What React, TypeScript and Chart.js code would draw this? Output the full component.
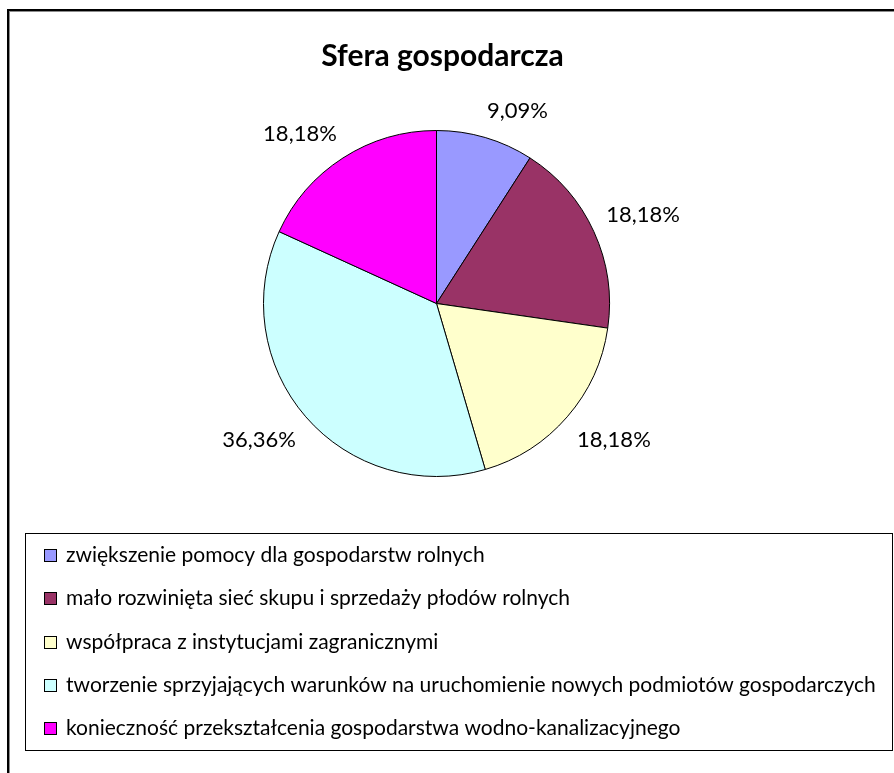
import { useEffect, useRef } from "react";
import { Chart, registerables } from "chart.js";

Chart.register(...registerables);

const chartTitle = "Sfera gospodarcza";
const categories = [
  "zwiększenie pomocy dla gospodarstw rolnych",
  "mało rozwinięta sieć skupu i sprzedaży płodów rolnych",
  "współpraca z instytucjami zagranicznymi",
  "tworzenie sprzyjających warunków na uruchomienie nowych podmiotów gospodarczych",
  "konieczność przekształcenia gospodarstwa wodno-kanalizacyjnego",
];
const values = [9.09, 18.18, 18.18, 36.36, 18.18];
const colors = ["#9999FF", "#993366", "#FFFFCC", "#CCFFFF", "#FF00FF"];

const FONT = "Lato, 'Open Sans', 'DejaVu Sans', sans-serif";

const fmt = (v: number) => v.toFixed(2).replace(".", ",") + "%";

const decorPlugin = {
  id: "decor",
  beforeDraw(chart: any) {
    const ctx = chart.ctx as CanvasRenderingContext2D;
    ctx.save();
    ctx.fillStyle = "#ffffff";
    ctx.fillRect(0, 0, chart.width, chart.height);
    // outer chart frame (top + left visible)
    ctx.fillStyle = "#000000";
    ctx.fillRect(7, 9, 2, chart.height);
    ctx.fillRect(7, 9, chart.width, 2);
    ctx.fillStyle = "#8c8c8c";
    ctx.fillRect(9, 11, 1, chart.height);
    ctx.fillRect(9, 11, chart.width, 1);
    ctx.restore();
  },
  afterDraw(chart: any) {
    const ctx = chart.ctx as CanvasRenderingContext2D;
    ctx.save();
    // title
    ctx.fillStyle = "#000000";
    ctx.font = `bold 30px ${FONT}`;
    ctx.textAlign = "center";
    ctx.textBaseline = "alphabetic";
    ctx.fillText(chartTitle, 442.5, 66);

    // data labels
    const meta = chart.getDatasetMeta(0);
    ctx.font = `22px ${FONT}`;
    meta.data.forEach((arc: any, i: number) => {
      const { x, y, startAngle, endAngle, outerRadius } = arc.getProps(
        ["x", "y", "startAngle", "endAngle", "outerRadius"],
        true
      );
      const mid = (startAngle + endAngle) / 2;
      const c = Math.cos(mid);
      const s = Math.sin(mid);
      const text = fmt(values[i]);
      const w = ctx.measureText(text).width;
      const R = outerRadius + 17;
      const cx = x + c * R + Math.sign(c) * (w / 2 - 3);
      const cy = y + s * R + Math.sign(s) * 11;
      ctx.textAlign = "center";
      ctx.fillText(text, cx, cy + 8);
    });

    // legend box
    const boxL = 25, boxT = 533, boxR = 892, boxB = 750;
    ctx.strokeStyle = "#000000";
    ctx.lineWidth = 1;
    ctx.strokeRect(boxL + 0.5, boxT + 0.5, boxR - boxL, boxB - boxT);
    const rowH = (boxB - boxT) / categories.length;
    ctx.font = `21px ${FONT}`;
    ctx.textAlign = "left";
    categories.forEach((label, i) => {
      const ry = Math.round(boxT + rowH * (i + 0.5));
      ctx.fillStyle = colors[i];
      ctx.fillRect(44, ry - 6, 12, 12);
      ctx.strokeStyle = "#000000";
      ctx.strokeRect(44.5, ry - 5.5, 12, 12);
      ctx.fillStyle = "#000000";
      ctx.fillText(label, 66, ry + 7);
    });
    ctx.restore();
  },
};

export default function App() {
  const ref = useRef<HTMLCanvasElement | null>(null);
  useEffect(() => {
    document.body.style.margin = "0";
    if (!ref.current) return;
    const chart = new Chart(ref.current, {
      type: "pie",
      data: {
        labels: categories,
        datasets: [
          {
            data: values,
            backgroundColor: colors,
            borderColor: "#000000",
            borderWidth: 1,
          },
        ],
      },
      options: {
        responsive: false,
        animation: false,
        devicePixelRatio: 1,
        layout: { padding: { left: 263, top: 130, right: 284, bottom: 296 } },
        plugins: {
          legend: { display: false },
          tooltip: { enabled: false },
          title: { display: false },
        },
      },
      plugins: [decorPlugin],
    });
    return () => chart.destroy();
  }, []);
  return (
    <div style={{ position: "absolute", left: 0, top: 0, width: 894, height: 773 }}>
      <canvas ref={ref} width={894} height={773} />
    </div>
  );
}
